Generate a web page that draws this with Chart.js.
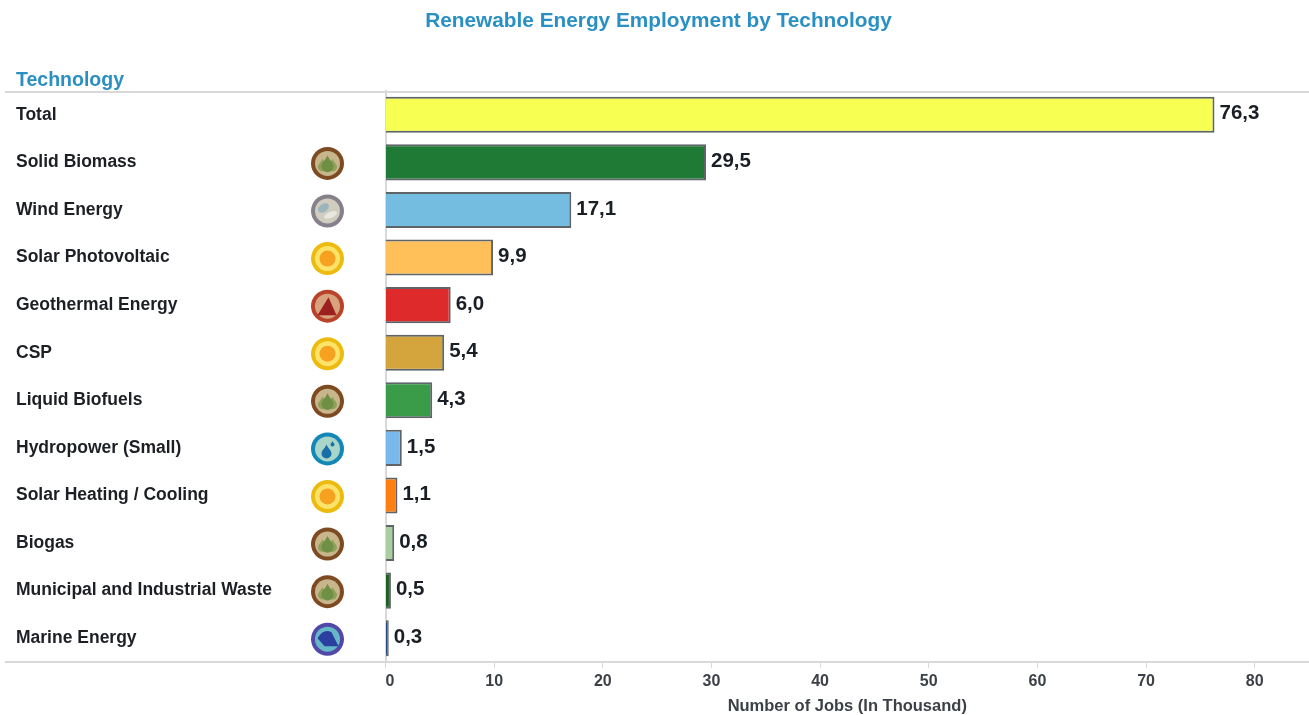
<!DOCTYPE html>
<html>
<head>
<meta charset="utf-8">
<title>Renewable Energy Employment by Technology</title>
<script src="https://cdn.jsdelivr.net/npm/chart.js@4"></script>
<style>
    html, body { margin: 0; padding: 0; background: #fff; overflow: hidden; }
    .chart-wrap { position: relative; width: 1309px; height: 715px; }
</style>
</head>
<body>
<div class="chart-wrap"><canvas id="jobsChart"></canvas></div>
<script>
const technologies = [
    'Total',
    'Solid Biomass',
    'Wind Energy',
    'Solar Photovoltaic',
    'Geothermal Energy',
    'CSP',
    'Liquid Biofuels',
    'Hydropower (Small)',
    'Solar Heating / Cooling',
    'Biogas',
    'Municipal and Industrial Waste',
    'Marine Energy',
];
const jobs = [76.3, 29.5, 17.1, 9.9, 6.0, 5.4, 4.3, 1.5, 1.1, 0.8, 0.5, 0.3];
const jobTicks = [0, 10, 20, 30, 40, 50, 60, 70, 80];
const jobsMax = 85;
const icons = [null, 'biomass', 'wind', 'sun', 'geo', 'sun', 'biomass', 'water', 'sun', 'biomass', 'biomass', 'marine'];

const barColors = [
    '#f6ff52', '#1e7a34', '#74bde0', '#ffc05a', '#de2a2a', '#d3a53c',
    '#3a9b48', '#78b8ea', '#ff8012', '#a9cf9f', '#1c5f22', '#234a78',
];

const font = "'Liberation Sans', Arial, sans-serif";
const blue = '#2a90c4';
const rule = '#d9d9d9';

function ring(ctx, x, y, outer, middle, inner) {
    ctx.fillStyle = outer;
    ctx.beginPath();
    ctx.arc(x, y, 16.5, 0, Math.PI * 2);
    ctx.fill();
    ctx.fillStyle = middle;
    ctx.beginPath();
    ctx.arc(x, y, 12.5, 0, Math.PI * 2);
    ctx.fill();
    if (inner) {
        ctx.fillStyle = inner;
        ctx.beginPath();
        ctx.arc(x, y, 8, 0, Math.PI * 2);
        ctx.fill();
    }
}

function drop(ctx, x, y, r, color) {
    ctx.fillStyle = color;
    ctx.beginPath();
    ctx.moveTo(x, y - r * 1.5);
    ctx.bezierCurveTo(x + r * 0.4, y - r * 0.6, x + r, y - r * 0.3, x + r, y + r * 0.3);
    ctx.arc(x, y + r * 0.3, r, 0, Math.PI);
    ctx.bezierCurveTo(x - r, y - r * 0.3, x - r * 0.4, y - r * 0.6, x, y - r * 1.5);
    ctx.fill();
}

function drawIcon(ctx, kind, x, y) {
    if (kind === 'biomass') {
        ring(ctx, x, y, '#7d4a22', '#c7b58c');
        drop(ctx, x - 5, y + 2, 4.5, '#8fa05a');
        drop(ctx, x + 5, y + 2, 4.5, '#8fa05a');
        drop(ctx, x, y + 1, 6, '#6f8f45');
    } else if (kind === 'wind') {
        ring(ctx, x, y, '#86808a', '#cfcdbf');
        ctx.fillStyle = '#9db4bb';
        ctx.beginPath();
        ctx.ellipse(x - 4, y - 3, 6, 4, -0.6, 0, Math.PI * 2);
        ctx.fill();
        ctx.fillStyle = '#e8e7df';
        ctx.beginPath();
        ctx.ellipse(x + 3, y + 4, 7, 3, -0.4, 0, Math.PI * 2);
        ctx.fill();
    } else if (kind === 'sun') {
        ring(ctx, x, y, '#edbb10', '#fbe36a', '#f6a11f');
    } else if (kind === 'geo') {
        ring(ctx, x, y, '#b8432a', '#d8a27e');
        ctx.fillStyle = '#9c2020';
        ctx.beginPath();
        ctx.moveTo(x - 10, y + 9);
        ctx.lineTo(x + 1, y - 9);
        ctx.lineTo(x + 9, y + 9);
        ctx.closePath();
        ctx.fill();
    } else if (kind === 'water') {
        ring(ctx, x, y, '#1487b8', '#a9d6c8');
        drop(ctx, x - 1, y + 3, 5, '#1a6fa8');
        drop(ctx, x + 5, y - 5, 2, '#1a6fa8');
    } else if (kind === 'marine') {
        ring(ctx, x, y, '#5148a8', '#66b8c8');
        ctx.fillStyle = '#2a3fa0';
        ctx.beginPath();
        ctx.moveTo(x - 10, y - 1);
        ctx.quadraticCurveTo(x - 4, y - 11, x + 4, y - 7);
        ctx.lineTo(x + 11, y + 7);
        ctx.lineTo(x - 3, y + 7);
        ctx.closePath();
        ctx.fill();
    }
}

// title, header, rules and row icons around the plot
const tableFrame = {
    id: 'tableFrame',
    beforeDraw(chart) {
        const ctx = chart.ctx;
        const y = chart.scales.y;
        ctx.save();
        ctx.textBaseline = 'middle';
        ctx.fillStyle = blue;
        ctx.textAlign = 'center';
        ctx.font = 'bold 20.8px ' + font;
        ctx.fillText('Renewable Energy Employment by Technology', 658.5, 21.5);
        ctx.textAlign = 'left';
        ctx.font = 'bold 19.5px ' + font;
        ctx.fillText('Technology', 16, 80.5);

        ctx.strokeStyle = rule;
        ctx.lineWidth = 2;
        [92, y.bottom].forEach((ly) => {
            ctx.beginPath();
            ctx.moveTo(5, ly);
            ctx.lineTo(1309, ly);
            ctx.stroke();
        });

        icons.forEach((kind, i) => {
            if (kind) drawIcon(ctx, kind, 327.5, y.getPixelForValue(i) + 1);
        });
        ctx.restore();
    },
};

// value at the end of each bar, decimal comma
const valueLabels = {
    id: 'valueLabels',
    afterDatasetsDraw(chart) {
        const ctx = chart.ctx;
        ctx.save();
        ctx.font = 'bold 20.5px ' + font;
        ctx.fillStyle = '#1a1f26';
        ctx.textAlign = 'left';
        ctx.textBaseline = 'middle';
        chart.getDatasetMeta(0).data.forEach((bar, i) => {
            ctx.fillText(jobs[i].toFixed(1).replace('.', ','), bar.x + 5, bar.y - 1);
        });
        ctx.restore();
    },
};

new Chart(document.getElementById('jobsChart'), {
    type: 'bar',
    data: {
        labels: technologies,
        datasets: [{
            data: jobs,
            backgroundColor: barColors,
            borderColor: '#5f6468',
            borderWidth: 2,
            barPercentage: 0.76,
            categoryPercentage: 1,
        }],
    },
    options: {
        indexAxis: 'y',
        responsive: true,
        maintainAspectRatio: false,
        animation: false,
        layout: { padding: { left: 16, top: 91, right: 0, bottom: 0 } },
        plugins: {
            legend: { display: false },
            tooltip: { enabled: false },
        },
        scales: {
            x: {
                min: 0,
                max: jobsMax,
                // the blank end tick lets align: 'inner' push only the 0 label off the axis
                afterBuildTicks(scale) {
                    scale.ticks = [...jobTicks, jobsMax].map((value) => ({ value }));
                },
                afterFit(scale) {
                    scale.height = 53;
                    scale.paddingLeft = 0;
                    scale.paddingRight = 0;
                },
                grid: {
                    drawOnChartArea: false,
                    tickLength: 6,
                    tickColor: (ctx) => (ctx.tick && ctx.tick.value === jobsMax ? 'transparent' : rule),
                },
                border: { display: false },
                ticks: {
                    maxRotation: 0,
                    padding: 4,
                    align: 'inner',
                    callback: (value) => (value === jobsMax ? '' : value),
                    color: '#3c4148',
                    font: { family: font, weight: 'bold', size: 16 },
                },
                title: {
                    display: true,
                    text: 'Number of Jobs (In Thousand)',
                    color: '#3c4148',
                    padding: { top: 6, bottom: -1 },
                    font: { family: font, weight: 'bold', size: 16.5 },
                },
            },
            y: {
                afterFit(scale) {
                    scale.width = 369.5;
                },
                grid: { display: false },
                border: { display: true, color: rule, width: 2 },
                ticks: {
                    crossAlign: 'far',
                    autoSkip: false,
                    color: '#1c1f24',
                    font: { family: font, weight: 'bold', size: 17.5 },
                },
            },
        },
    },
    plugins: [tableFrame, valueLabels],
});
</script>
</body>
</html>
